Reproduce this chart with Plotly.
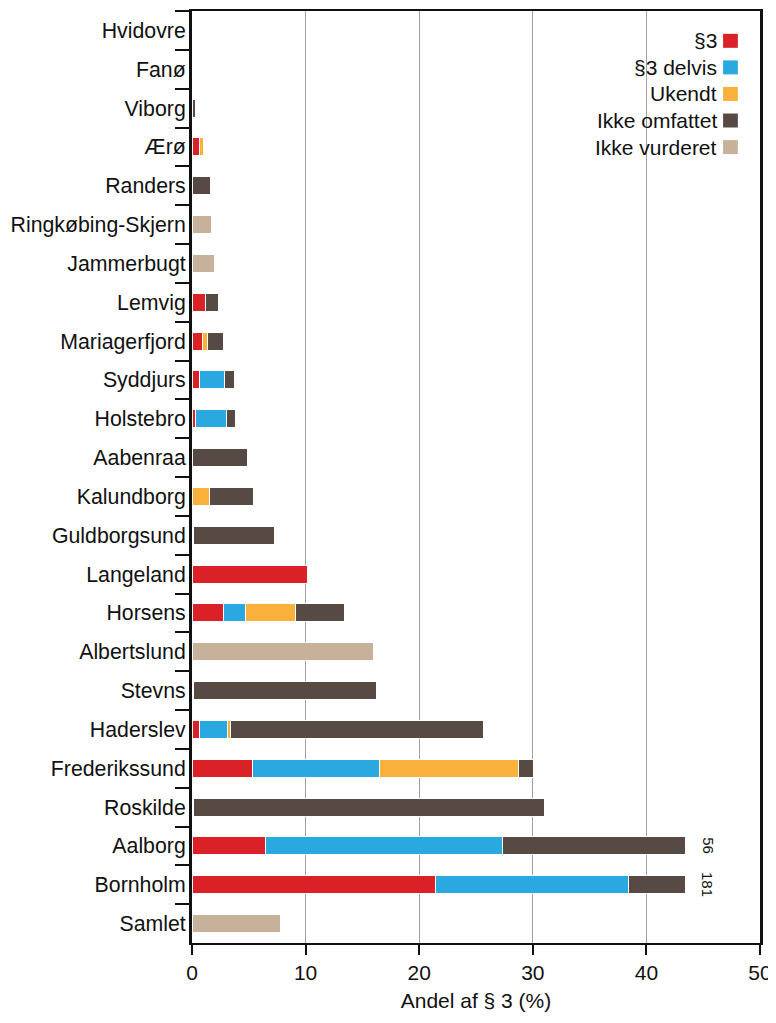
import plotly.graph_objects as go

categories = ["Hvidovre", "Fanø", "Viborg", "Ærø", "Randers", "Ringkøbing-Skjern",
              "Jammerbugt", "Lemvig", "Mariagerfjord", "Syddjurs", "Holstebro",
              "Aabenraa", "Kalundborg", "Guldborgsund", "Langeland", "Horsens",
              "Albertslund", "Stevns", "Haderslev", "Frederikssund", "Roskilde",
              "Aalborg", "Bornholm", "Samlet"]

p3 =            [0, 0, 0, 0.65, 0, 0, 0, 1.15, 0.95, 0.62, 0.27, 0, 0, 0.15, 10.2, 2.73,
                 0, 0.15, 0.7, 5.3, 0.15, 6.45, 21.4, 0]
p3_delvis =     [0, 0, 0, 0, 0, 0, 0, 0, 0, 2.2, 2.8, 0, 0, 0, 0, 1.95,
                 0, 0, 2.4, 11.2, 0, 20.85, 17.0, 0]
ukendt =        [0, 0.15, 0, 0.38, 0, 0, 0, 0, 0.45, 0, 0, 0, 1.5, 0, 0, 4.4,
                 0, 0, 0.25, 12.2, 0, 0, 0, 0]
ikke_omfattet = [0, 0, 0.35, 0, 1.6, 0, 0, 1.15, 1.35, 0.9, 0.75, 4.9, 3.9, 7.15, 0, 4.35,
                 0, 16.05, 22.35, 1.4, 30.85, 16.1, 5.0, 0]
ikke_vurderet = [0, 0, 0, 0, 0.1, 1.7, 1.95, 0, 0, 0, 0, 0, 0, 0, 0, 0,
                 15.95, 0, 0, 0, 0, 0, 0, 7.8]

series_names = ["§3", "§3 delvis", "Ukendt", "Ikke omfattet", "Ikke vurderet"]
series_values = [p3, p3_delvis, ukendt, ikke_omfattet, ikke_vurderet]
colors = ["#da2128", "#29a9e0", "#f9b13c", "#574a44", "#c7b19a"]

overflow_categories = ["Aalborg", "Bornholm"]
overflow_labels = ["56", "181"]
overflow_label_x = 45.4

FONT = "Liberation Sans, Arial, Helvetica, sans-serif"

fig = go.Figure()
for name, vals, col in zip(series_names, series_values, colors):
    fig.add_trace(go.Bar(
        y=categories, x=vals, name=name, orientation="h",
        marker=dict(color=col, line=dict(color="white", width=1)),
        width=0.46, showlegend=False,
    ))

for cat, lab in zip(overflow_categories, overflow_labels):
    fig.add_annotation(x=overflow_label_x, y=cat, text=lab, showarrow=False,
                       textangle=90, font=dict(size=15, color="#111", family=FONT),
                       xref="x", yref="y")

# custom legend: text right, swatch on the right
leg_y0 = 0.968
leg_dy = 0.0285
for i, (name, col) in enumerate(zip(series_names, colors)):
    y = leg_y0 - i * leg_dy
    fig.add_annotation(x=0.927, y=y, xref="paper", yref="paper", text=name,
                       showarrow=False, xanchor="right", yanchor="middle",
                       font=dict(size=21, color="#111", family=FONT))
    fig.add_shape(type="rect", xref="paper", yref="paper",
                  x0=0.935, x1=0.961, y0=y - 0.0075, y1=y + 0.0075,
                  fillcolor=col, line=dict(width=0))

fig.update_layout(
    width=768, height=1007,
    margin=dict(l=184, r=16, t=3, b=72),
    barmode="stack",
    plot_bgcolor="white", paper_bgcolor="white",
    font=dict(family=FONT, size=21, color="#111"),
)
fig.update_xaxes(
    range=[0, 50], tickvals=[0, 10, 20, 30, 40, 50], ticks="outside", ticklen=10,
    tickwidth=1.5, tickcolor="#111", showgrid=True, gridcolor="#a0a0a0", gridwidth=1.2,
    showline=True, linecolor="#111", linewidth=2, mirror=True, zeroline=False,
    title=dict(text="Andel af § 3 (%)", font=dict(size=21), standoff=10),
    tickfont=dict(size=21), automargin=False,
)
fig.update_yaxes(
    autorange="reversed", ticks="outside", tickson="boundaries", ticklen=14,
    tickwidth=1.5, tickcolor="#111", showline=True, linecolor="#111", linewidth=3,
    mirror=True, showgrid=False, tickfont=dict(size=21.3), ticklabelstandoff=-1,
    automargin=False,
)
fig.write_html("out.html")
